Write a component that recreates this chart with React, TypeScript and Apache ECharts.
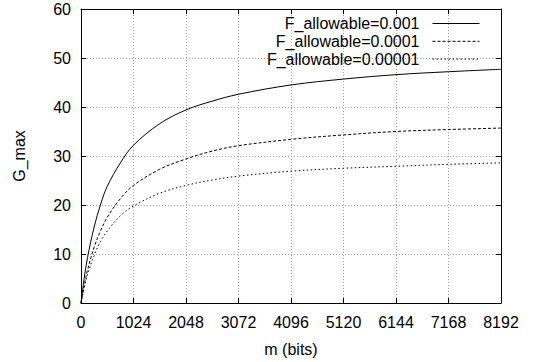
import React, { useEffect, useRef } from "react";
import * as echarts from "echarts";

const mBits = [0, 64, 128, 256, 384, 512, 768, 1024, 1536, 2048, 2560, 3072, 4096, 5120, 6144, 7168, 8192];
const seriesNames = ["F_allowable=0.001", "F_allowable=0.0001", "F_allowable=0.00001"];
const gMax001 = [0, 5.2, 9.3, 15.5, 20.2, 23.8, 28.6, 32.2, 36.6, 39.4, 41.2, 42.6, 44.5, 45.7, 46.6, 47.2, 47.7];
const gMax0001 = [0, 3.7, 6.7, 11.4, 14.8, 17.5, 21.3, 24.0, 27.3, 29.4, 31.0, 32.1, 33.4, 34.3, 35.0, 35.4, 35.7];
const gMax00001 = [0, 3.2, 5.8, 9.7, 12.6, 14.7, 17.8, 19.8, 22.4, 24.0, 25.1, 25.9, 26.9, 27.5, 27.9, 28.3, 28.6];
const xTickStep = 1024;
const yTickStep = 10;

const FONT = "Liberation Sans, Arial, sans-serif";

export default function App() {
  const ref = useRef<HTMLDivElement>(null);
  useEffect(() => {
    document.body.style.margin = "0";
    const chart = echarts.init(ref.current!, null, { renderer: "svg" });
    const allSeries = [gMax001, gMax0001, gMax00001];
    const dashTypes: any[] = ["solid", [3, 2], [1.5, 2.5]];
    const txt = { color: "#000", fontSize: 16, fontFamily: FONT };
    const tickStyle = { inside: true, length: 5, lineStyle: { color: "#000", width: 1 } };
    const plain = (v: number) => String(v);
    chart.setOption({
      animation: false,
      backgroundColor: "#fff",
      grid: { left: 81, top: 9, right: 40, bottom: 57, show: false },
      xAxis: [
        {
          type: "value",
          min: 0,
          max: 8192,
          interval: xTickStep,
          position: "bottom",
          axisLine: { show: true, onZero: false, lineStyle: { color: "#000", width: 1 } },
          axisTick: tickStyle,
          axisLabel: { ...txt, margin: 11, formatter: plain },
          splitLine: { show: true, lineStyle: { color: "#9a9a9a", width: 1, type: [1, 2] } },
          name: "m (bits)",
          nameLocation: "middle",
          nameGap: 38,
          nameTextStyle: txt,
        },
        {
          type: "value",
          min: 0,
          max: 8192,
          interval: xTickStep,
          position: "top",
          axisLine: { show: true, onZero: false, lineStyle: { color: "#000", width: 1 } },
          axisTick: tickStyle,
          axisLabel: { show: false },
          splitLine: { show: false },
        },
      ],
      yAxis: [
        {
          type: "value",
          min: 0,
          max: 60,
          interval: yTickStep,
          position: "left",
          axisLine: { show: true, onZero: false, lineStyle: { color: "#000", width: 1 } },
          axisTick: tickStyle,
          axisLabel: { ...txt, margin: 10, formatter: plain },
          splitLine: { show: true, lineStyle: { color: "#9a9a9a", width: 1, type: [1, 2] } },
          name: "G_max",
          nameLocation: "middle",
          nameGap: 54,
          nameTextStyle: txt,
        },
        {
          type: "value",
          min: 0,
          max: 60,
          interval: yTickStep,
          position: "right",
          axisLine: { show: true, onZero: false, lineStyle: { color: "#000", width: 1 } },
          axisTick: tickStyle,
          axisLabel: { show: false },
          splitLine: { show: false },
        },
      ],
      legend: seriesNames.map((n, i) => ({
        data: [n],
        right: 61,
        top: 15.5 + i * 17.8,
        orient: "vertical",
        align: "right",
        itemWidth: 47,
        itemHeight: 14,
        padding: 0,
        itemGap: 0,
        selectedMode: false,
        itemStyle: { opacity: 0 },
        lineStyle: { width: 1 },
        textStyle: { ...txt, padding: [0, 8, 0, 0] },
      })),
      series: allSeries.map((vals, i) => ({
        name: seriesNames[i],
        type: "line",
        xAxisIndex: 0,
        yAxisIndex: 0,
        data: mBits.map((m, j) => [m, vals[j]]),
        symbol: "none",
        smooth: 0.35,
        itemStyle: { color: "#000" },
        lineStyle: { color: "#000", width: 1, type: dashTypes[i] },
        z: 5,
      })),
    });
    return () => chart.dispose();
  }, []);
  return <div ref={ref} style={{ width: 541, height: 362 }} />;
}
